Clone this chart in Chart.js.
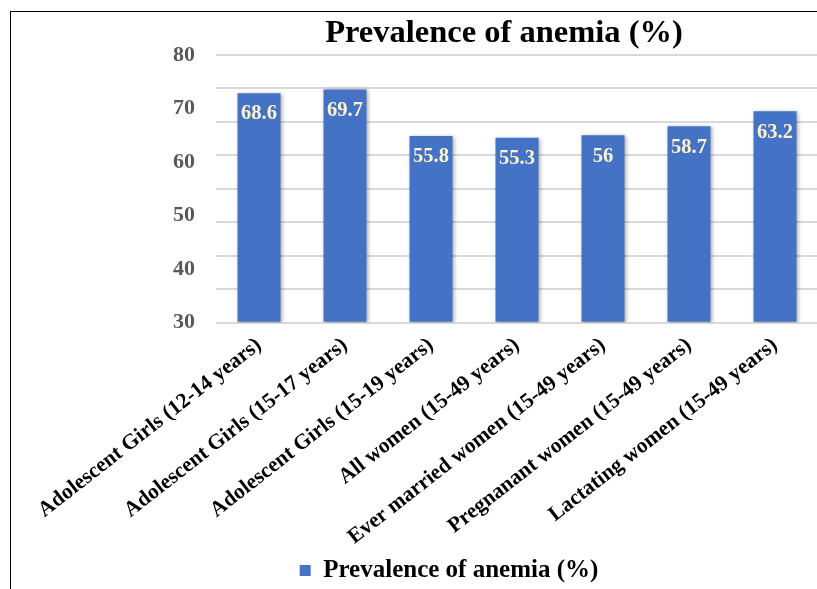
<!DOCTYPE html>
<html>
<head>
<meta charset="utf-8">
<script src="https://cdn.jsdelivr.net/npm/chart.js@4/dist/chart.umd.min.js"></script>
<style>
  html, body { margin: 0; padding: 0; background: #fff; overflow: hidden; width: 817px; height: 589px; }
  #frame { position: absolute; left: 10px; top: 11px; width: 900px; height: 700px;
           border-left: 1px solid #000; border-top: 1px solid #000; }
  #wrap { position: absolute; left: 0; top: 0; width: 830px; height: 589px; }
</style>
</head>
<body>
<div id="frame"></div>
<div id="wrap"><canvas id="chart" width="830" height="589"></canvas></div>
<script>
// Population groups shown on the category axis
const categories = [
  'Adolescent Girls (12-14 years)',
  'Adolescent Girls (15-17 years)',
  'Adolescent Girls (15-19 years)',
  'All women (15-49 years)',
  'Ever married women (15-49 years)',
  'Pregnanant women (15-49 years)',
  'Lactating women (15-49 years)'
];

// Anemia prevalence per group, in percent
const prevalence = [68.6, 69.7, 55.8, 55.3, 56, 58.7, 63.2];

// Labels printed along the value axis
const valueAxisLabels = [30, 40, 50, 60, 70, 80];

const seriesName = 'Prevalence of anemia (%)';
const chartTitle = 'Prevalence of anemia (%)';

const SERIF = "'Liberation Serif', 'Times New Roman', serif";

// Soft drop shadow under the bars
const barShadow = {
  id: 'barShadow',
  beforeDatasetsDraw(chart) {
    const c = chart.ctx;
    c.save();
    c.shadowColor = 'rgba(0,0,0,0.35)';
    c.shadowBlur = 4;
    c.shadowOffsetX = 1;
    c.shadowOffsetY = 1;
  },
  afterDatasetsDraw(chart) {
    chart.ctx.restore();
  }
};

// Value printed just inside the top of each bar
const barValueLabels = {
  id: 'barValueLabels',
  afterDatasetsDraw(chart, args, opts) {
    const ctx = chart.ctx;
    const meta = chart.getDatasetMeta(0);
    const values = chart.data.datasets[0].data;
    ctx.save();
    ctx.font = opts.font;
    ctx.fillStyle = opts.color;
    ctx.textAlign = 'center';
    ctx.textBaseline = 'middle';
    meta.data.forEach((bar, i) => {
      ctx.fillText(String(values[i]), bar.x, bar.y + opts.offset);
    });
    ctx.restore();
  }
};

// Horizontal centring of the title and legend blocks
const blockCentres = {
  id: 'blockCentres',
  afterLayout(chart, args, opts) {
    const t = chart.titleBlock;
    if (t && opts.titleX != null) {
      const half = (t.right - t.left) / 2;
      t.left = opts.titleX - half;
      t.right = opts.titleX + half;
    }
    const l = chart.legend;
    if (l && opts.legendX != null) {
      const d = opts.legendX - (l.left + l.right) / 2;
      l.left += d;
      l.right += d;
    }
  }
};

new Chart(document.getElementById('chart'), {
  type: 'bar',
  data: {
    labels: categories,
    datasets: [{
      label: seriesName,
      data: prevalence,
      backgroundColor: '#4472C4',
      borderWidth: 0,
      barPercentage: 0.5,
      categoryPercentage: 1.0,
      yAxisID: 'y'
    }]
  },
  plugins: [barShadow, barValueLabels, blockCentres],
  options: {
    responsive: false,
    animation: false,
    layout: { padding: { left: 160, right: 12, top: 0, bottom: -4 } },
    scales: {
      x: {
        grid: { display: false },
        border: { display: false },
        ticks: {
          autoSkip: false,
          minRotation: 38,
          maxRotation: 38,
          padding: 2,
          color: '#000',
          font: { family: SERIF, size: 21.5, weight: 'bold' }
        }
      },
      y: {
        position: 'left',
        min: 0,
        max: 80,
        border: { display: false },
        grid: { color: '#d9d9d9', lineWidth: 2, drawTicks: false },
        ticks: { display: false, stepSize: 10 }
      },
      yLabels: {
        position: 'left',
        min: valueAxisLabels[0],
        max: valueAxisLabels[valueAxisLabels.length - 1],
        grid: { display: false },
        border: { display: false },
        afterBuildTicks(scale) {
          scale.ticks = valueAxisLabels.map(v => ({ value: v }));
        },
        ticks: {
          padding: 13,
          color: '#595959',
          font: { family: SERIF, size: 22, weight: 'bold' }
        }
      }
    },
    plugins: {
      title: {
        display: true,
        text: chartTitle,
        color: '#000',
        font: { family: SERIF, size: 32.5, weight: 'bold' },
        padding: { top: 14, bottom: 2 }
      },
      legend: {
        position: 'bottom',
        labels: {
          color: '#000',
          boxWidth: 11,
          boxHeight: 11,
          padding: 6,
          font: { family: SERIF, size: 25, weight: 'bold' }
        }
      },
      tooltip: { enabled: false },
      barValueLabels: { font: "bold 20.5px 'Liberation Serif', serif", color: '#FFF2CC', offset: 21 },
      blockCentres: { titleX: 504, legendX: 449 }
    }
  }
});
</script>
</body>
</html>
